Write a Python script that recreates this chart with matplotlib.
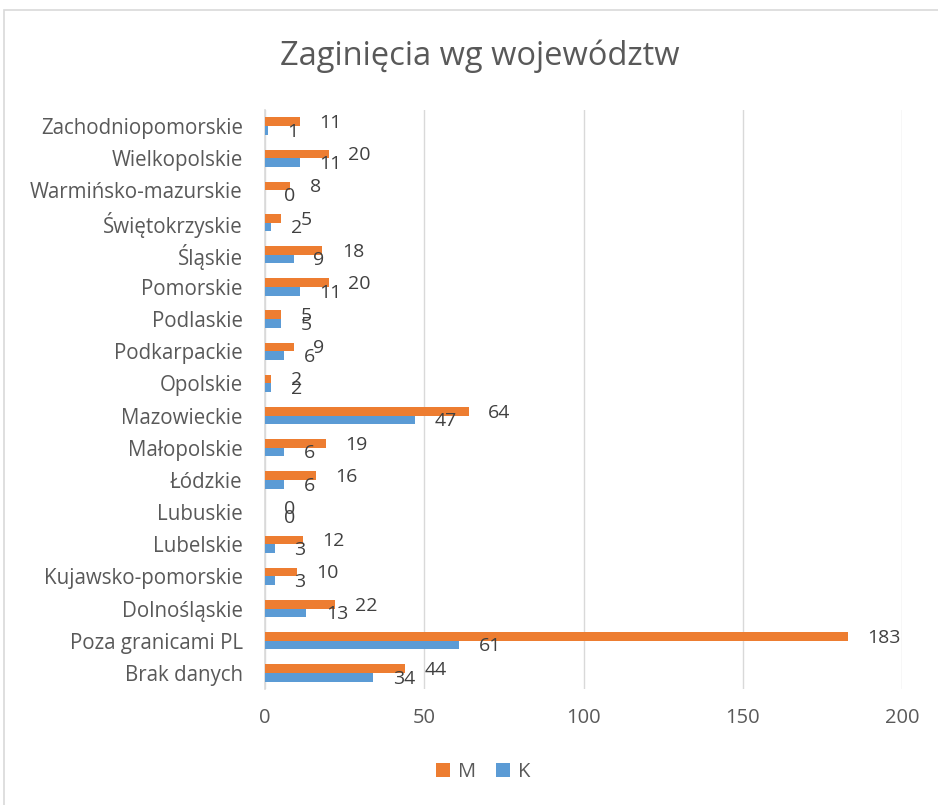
import numpy as np
import matplotlib.pyplot as plt
from matplotlib.patches import Rectangle

plt.rcParams['font.family'] = ['Open Sans', 'DejaVu Sans']

categories = ["Brak danych", "Poza granicami PL", "Dolnośląskie", "Kujawsko-pomorskie",
              "Lubelskie", "Lubuskie", "Łódzkie", "Małopolskie", "Mazowieckie", "Opolskie",
              "Podkarpackie", "Podlaskie", "Pomorskie", "Śląskie", "Świętokrzyskie",
              "Warmińsko-mazurskie", "Wielkopolskie", "Zachodniopomorskie"]
m_values = [44, 183, 22, 10, 12, 0, 16, 19, 64, 2, 9, 5, 20, 18, 5, 8, 20, 11]
k_values = [34, 61, 13, 3, 3, 0, 6, 6, 47, 2, 6, 5, 11, 9, 2, 0, 11, 1]
x_ticks = [0, 50, 100, 150, 200]

orange = "#ED7D31"
blue = "#5B9BD5"
text_gray = "#595959"
label_gray = "#404040"

fig = plt.figure(figsize=(9.38, 8.05), dpi=100)
ax = fig.add_axes([265 / 938, 1 - 689 / 805, 637 / 938, 579 / 805])

# light chart border like the Excel chart area
fig.patches.append(Rectangle((4 / 938, -0.01), 1.0, 1 - 10 / 805 + 0.01,
                             transform=fig.transFigure, fill=False,
                             edgecolor="#d9d9d9", linewidth=1.2))

y = np.arange(len(categories))
h = 0.27
bars_m = ax.barh(y + h / 2, m_values, height=h, color=orange, label="M", zorder=3)
bars_k = ax.barh(y - h / 2, k_values, height=h, color=blue, label="K", zorder=3)

for rect, v in zip(bars_m, m_values):
    ax.annotate(str(v), (rect.get_width(), rect.get_y() + rect.get_height() / 2),
                xytext=(14, -1), textcoords="offset points", va="center", ha="left",
                fontsize=14, color=label_gray)
for rect, v in zip(bars_k, k_values):
    ax.annotate(str(v), (rect.get_width(), rect.get_y() + rect.get_height() / 2),
                xytext=(14, -1), textcoords="offset points", va="center", ha="left",
                fontsize=14, color=label_gray)

ax.set_xlim(0, 200)
ax.set_ylim(-0.5, len(categories) - 0.5)
ax.set_xticks(x_ticks)
ax.set_yticks(y)
ax.set_yticklabels(categories)
ax.tick_params(axis="both", length=0, labelsize=14.8, colors=text_gray)
ax.tick_params(axis="x", labelsize=14.5, pad=14)
ax.tick_params(axis="y", pad=16)
ax.grid(axis="x", color="#d9d9d9", linewidth=1, zorder=0)
for s in ["top", "right", "bottom"]:
    ax.spines[s].set_visible(False)
ax.spines["left"].set_color("#d9d9d9")
ax.spines["left"].set_linewidth(1.2)

fig.text(480 / 938, 1 - 56 / 805, "Zaginięcia wg województw", ha="center", va="center",
         fontsize=23.5, color=text_gray)

handles, labels = ax.get_legend_handles_labels()
fig.legend(handles, labels, loc="center", bbox_to_anchor=(483 / 938, 1 - 772 / 805), ncol=2,
           frameon=False, fontsize=14.5, labelcolor=text_gray, handlelength=0.7,
           handleheight=0.7, handletextpad=0.4, columnspacing=1.0)

fig.savefig("out.png", dpi=100)
